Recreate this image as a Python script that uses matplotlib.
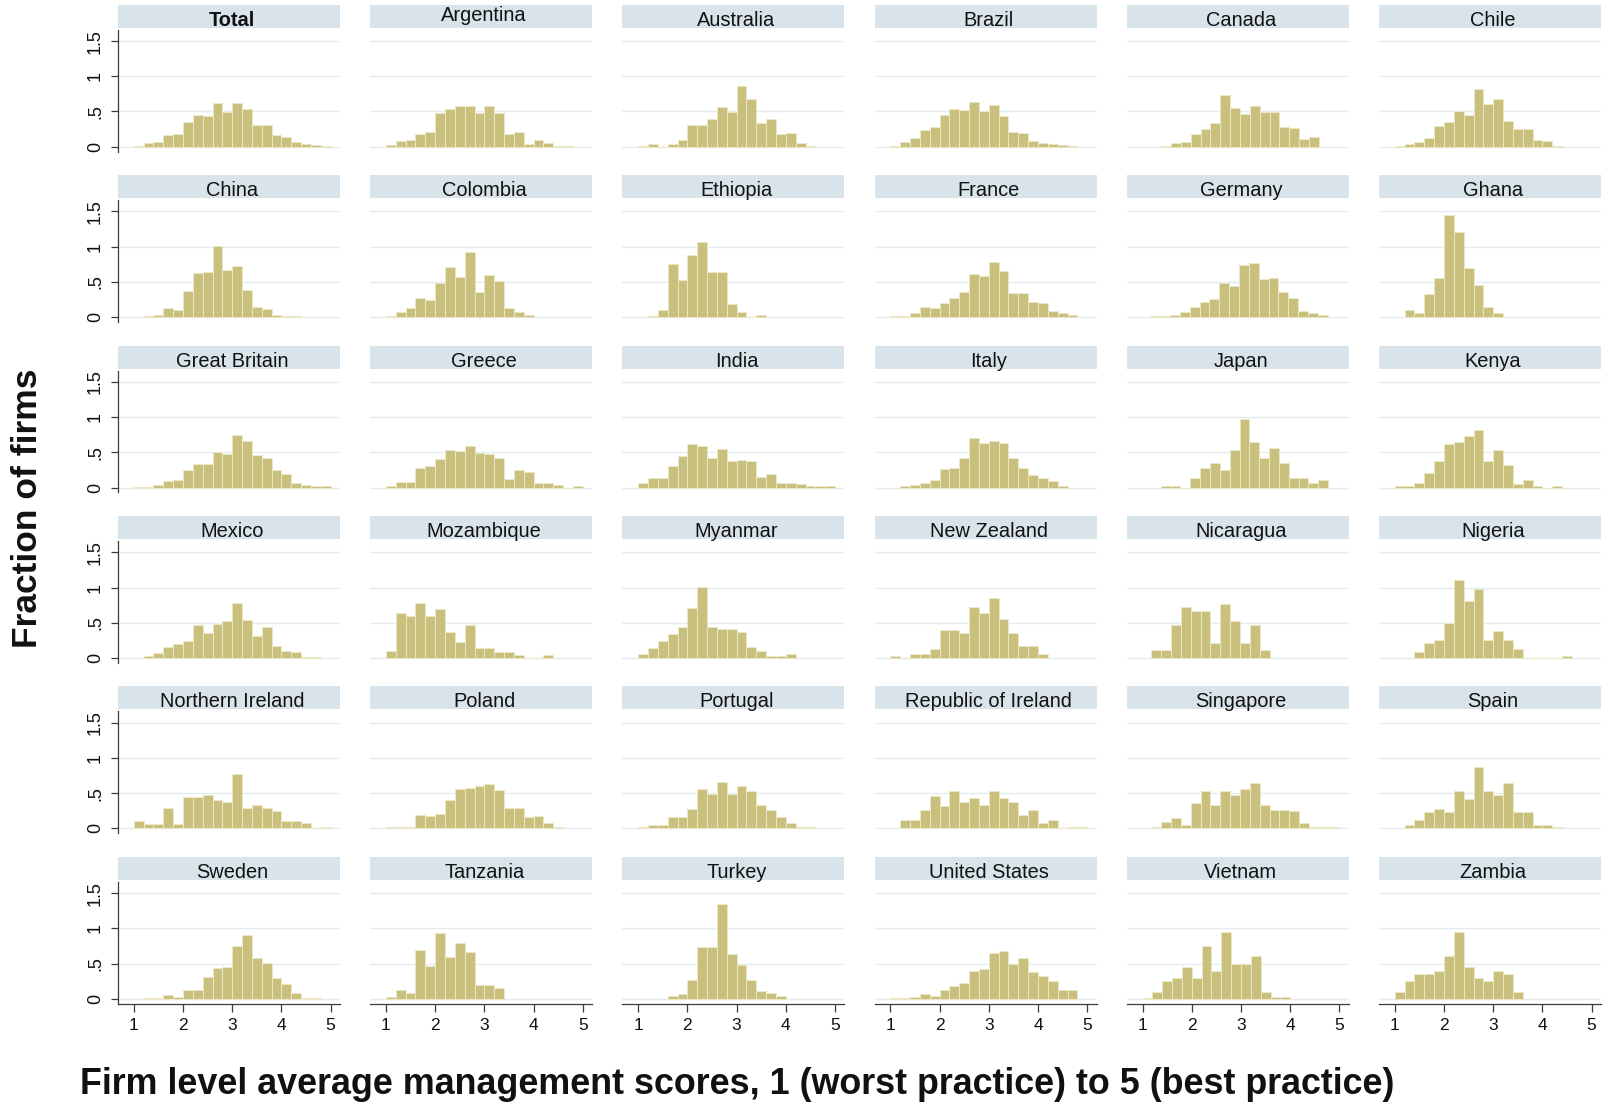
import matplotlib
matplotlib.use("Agg")
import matplotlib.pyplot as plt
from matplotlib.patches import Rectangle

plt.rcParams['font.family'] = ['Liberation Sans', 'DejaVu Sans']

W, H, DPI = 1606, 1105, 100

countries = [
    "Total", "Argentina", "Australia", "Brazil", "Canada", "Chile",
    "China", "Colombia", "Ethiopia", "France", "Germany", "Ghana",
    "Great Britain", "Greece", "India", "Italy", "Japan", "Kenya",
    "Mexico", "Mozambique", "Myanmar", "New Zealand", "Nicaragua", "Nigeria",
    "Northern Ireland", "Poland", "Portugal", "Republic of Ireland", "Singapore", "Spain",
    "Sweden", "Tanzania", "Turkey", "United States", "Vietnam", "Zambia",
]

# histogram bins: common width, first edge per country
bin_width = 0.2
bin_start = [
    1.0, 1.0, 1.0, 1.0, 1.38, 1.0,
    1.2, 1.0, 1.2, 1.0, 1.16, 1.2,
    1.0, 1.0, 1.0, 1.2, 1.37, 1.0,
    1.2, 1.0, 1.0, 1.0, 1.18, 1.4,
    1.0, 1.0, 1.0, 1.2, 1.18, 1.2,
    1.2, 1.0, 1.6, 1.0, 1.0, 1.0,
]

# density (fraction of firms per unit score) in each bin
total = [0.014, 0.057, 0.066, 0.165, 0.184, 0.344, 0.448, 0.434, 0.627, 0.486,
         0.627, 0.533, 0.311, 0.311, 0.165, 0.142, 0.066, 0.038, 0.024, 0.014]
argentina = [0.024, 0.08, 0.094, 0.184, 0.21, 0.48, 0.54, 0.585, 0.585, 0.48,
             0.575, 0.48, 0.184, 0.21, 0.038, 0.094, 0.047, 0.014, 0.014]
australia = [0.014, 0.038, 0.0, 0.033, 0.094, 0.31, 0.31, 0.40, 0.566, 0.486,
             0.868, 0.675, 0.33, 0.387, 0.184, 0.198, 0.047, 0.014]
brazil = [0.014, 0.061, 0.123, 0.24, 0.278, 0.448, 0.533, 0.519, 0.632, 0.5,
          0.59, 0.434, 0.212, 0.198, 0.085, 0.052, 0.038, 0.024, 0.014]
canada = [0.014, 0.057, 0.066, 0.184, 0.255, 0.33, 0.736, 0.547, 0.462, 0.575,
          0.486, 0.486, 0.278, 0.26, 0.108, 0.142]
chile = [0.014, 0.038, 0.066, 0.127, 0.297, 0.344, 0.505, 0.448, 0.825, 0.608,
         0.675, 0.363, 0.245, 0.245, 0.094, 0.08, 0.014]
china = [0.02, 0.033, 0.13, 0.095, 0.376, 0.63, 0.64, 1.01, 0.67, 0.73,
         0.39, 0.143, 0.114, 0.033, 0.02, 0.01]
colombia = [0.02, 0.067, 0.13, 0.27, 0.24, 0.48, 0.714, 0.567, 0.924, 0.357,
            0.595, 0.51, 0.13, 0.071, 0.024]
ethiopia = [0.02, 0.1, 0.76, 0.53, 0.876, 1.07, 0.643, 0.643, 0.186, 0.071, 0.0, 0.024]
france = [0.01, 0.014, 0.052, 0.143, 0.124, 0.195, 0.27, 0.357, 0.61, 0.58,
          0.776, 0.657, 0.348, 0.338, 0.214, 0.195, 0.081, 0.052, 0.024]
germany = [0.01, 0.014, 0.024, 0.07, 0.143, 0.21, 0.257, 0.48, 0.438, 0.738,
           0.77, 0.538, 0.552, 0.357, 0.267, 0.081, 0.052, 0.033]
ghana = [0.1, 0.052, 0.333, 0.56, 1.45, 1.21, 0.695, 0.46, 0.143, 0.052]
great_britain = [0.014, 0.014, 0.033, 0.09, 0.11, 0.243, 0.33, 0.33, 0.505, 0.47,
                 0.743, 0.667, 0.462, 0.42, 0.243, 0.186, 0.071, 0.033, 0.024, 0.024]
greece = [0.024, 0.076, 0.076, 0.28, 0.31, 0.405, 0.538, 0.52, 0.59, 0.495,
          0.47, 0.414, 0.124, 0.252, 0.214, 0.071, 0.062, 0.033, 0.0, 0.024]
india = [0.067, 0.13, 0.14, 0.31, 0.443, 0.624, 0.59, 0.414, 0.552, 0.371,
         0.39, 0.371, 0.148, 0.195, 0.071, 0.071, 0.043, 0.024, 0.024, 0.024]
italy = [0.02, 0.033, 0.062, 0.11, 0.267, 0.276, 0.414, 0.705, 0.638, 0.667,
         0.638, 0.424, 0.276, 0.176, 0.138, 0.09, 0.02]
japan = [0.024, 0.024, 0.0, 0.138, 0.276, 0.343, 0.252, 0.538, 0.967, 0.652,
         0.414, 0.567, 0.343, 0.138, 0.138, 0.071, 0.11]
kenya = [0.02, 0.02, 0.062, 0.21, 0.371, 0.62, 0.652, 0.729, 0.81, 0.371,
         0.538, 0.324, 0.048, 0.11, 0.02, 0.0, 0.024]
mexico = [0.029, 0.076, 0.148, 0.195, 0.238, 0.462, 0.357, 0.48, 0.52, 0.786,
          0.533, 0.305, 0.438, 0.167, 0.105, 0.081, 0.014, 0.014]
mozambique = [0.095, 0.638, 0.595, 0.786, 0.595, 0.695, 0.367, 0.224, 0.462, 0.138,
              0.138, 0.09, 0.09, 0.043, 0.0, 0.0, 0.048]
myanmar = [0.057, 0.138, 0.233, 0.338, 0.438, 0.705, 1.014, 0.438, 0.405, 0.405,
           0.362, 0.157, 0.105, 0.033, 0.033, 0.057]
new_zealand = [0.033, 0.0, 0.052, 0.052, 0.129, 0.4, 0.4, 0.352, 0.724, 0.638,
               0.852, 0.557, 0.352, 0.167, 0.167, 0.062]
nicaragua = [0.11, 0.11, 0.462, 0.719, 0.662, 0.662, 0.21, 0.767, 0.519, 0.21, 0.462, 0.11]
nigeria = [0.081, 0.21, 0.252, 0.5, 1.105, 0.81, 0.976, 0.252, 0.381, 0.252,
           0.129, 0.0, 0.0, 0.0, 0.0, 0.033]
northern_ireland = [0.1, 0.062, 0.062, 0.295, 0.062, 0.438, 0.438, 0.467, 0.4, 0.367,
                    0.767, 0.295, 0.324, 0.295, 0.252, 0.1, 0.1, 0.071, 0.0, 0.024]
poland = [0.014, 0.014, 0.014, 0.195, 0.181, 0.2, 0.395, 0.557, 0.571, 0.605,
          0.624, 0.538, 0.295, 0.295, 0.167, 0.181, 0.071, 0.02]
portugal = [0.02, 0.052, 0.052, 0.157, 0.167, 0.281, 0.557, 0.486, 0.662, 0.49,
            0.605, 0.533, 0.338, 0.267, 0.157, 0.071, 0.024, 0.02]
republic_of_ireland = [0.12, 0.12, 0.257, 0.457, 0.31, 0.533, 0.367, 0.424, 0.338, 0.533,
                       0.424, 0.367, 0.186, 0.257, 0.081, 0.12, 0.0, 0.024, 0.024]
singapore = [0.024, 0.09, 0.152, 0.052, 0.357, 0.524, 0.324, 0.524, 0.471, 0.557,
             0.643, 0.338, 0.267, 0.267, 0.243, 0.071, 0.024, 0.014, 0.014]
spain = [0.043, 0.119, 0.238, 0.281, 0.238, 0.533, 0.41, 0.867, 0.533, 0.471,
         0.638, 0.238, 0.238, 0.052, 0.052, 0.02]
sweden = [0.01, 0.01, 0.048, 0.024, 0.129, 0.129, 0.305, 0.438, 0.452, 0.748,
          0.9, 0.576, 0.51, 0.29, 0.214, 0.081, 0.014, 0.014]
tanzania = [0.024, 0.129, 0.081, 0.69, 0.467, 0.929, 0.595, 0.79, 0.662, 0.19, 0.19, 0.157]
turkey = [0.033, 0.062, 0.262, 0.733, 0.733, 1.343, 0.629, 0.481, 0.262, 0.114, 0.086, 0.033]
united_states = [0.01, 0.01, 0.02, 0.06, 0.04, 0.12, 0.18, 0.22, 0.4, 0.42,
                 0.65, 0.68, 0.5, 0.58, 0.38, 0.32, 0.25, 0.12, 0.12]
vietnam = [0.01, 0.1, 0.25, 0.3, 0.45, 0.3, 0.75, 0.4, 0.95, 0.5,
           0.5, 0.6, 0.1, 0.02, 0.02]
zambia = [0.1, 0.25, 0.35, 0.35, 0.4, 0.6, 0.95, 0.45, 0.3, 0.25, 0.4, 0.35, 0.1]

densities = [
    total, argentina, australia, brazil, canada, chile,
    china, colombia, ethiopia, france, germany, ghana,
    great_britain, greece, india, italy, japan, kenya,
    mexico, mozambique, myanmar, new_zealand, nicaragua, nigeria,
    northern_ireland, poland, portugal, republic_of_ireland, singapore, spain,
    sweden, tanzania, turkey, united_states, vietnam, zambia,
]

y_ticks = [0, 0.5, 1, 1.5]
y_ticklabels = ["0", ".5", "1", "1.5"]
x_ticks = [1, 2, 3, 4, 5]

BAR = "#c9c07e"
BAR_EDGE = "#ece7c6"
STRIP = "#d9e4ea"
GRID = "#e3ecef"
AXIS = "#3a3a3a"

# panel geometry in pixels
COL0, COL_STEP, PANEL_W = 118.0, 252.2, 222.0
ZERO0, ROW_STEP = 146.7, 170.4
PX_PER_Y = 70.4
YMIN, YMAX = -0.07, 1.66
XMIN, XMAX = 0.68, 5.19

fig = plt.figure(figsize=(W / DPI, H / DPI), dpi=DPI)
fig.patch.set_facecolor("white")

title_raise = {"Argentina": 4.5}

for k, (name, dens) in enumerate(zip(countries, densities)):
    r, c = divmod(k, 6)
    left = COL0 + COL_STEP * c
    zero = ZERO0 + ROW_STEP * r
    top = zero - YMAX * PX_PER_Y
    bottom = zero - YMIN * PX_PER_Y
    ax = fig.add_axes([left / W, 1 - bottom / H, PANEL_W / W, (bottom - top) / H])
    ax.set_xlim(XMIN, XMAX)
    ax.set_ylim(YMIN, YMAX)
    for yv in y_ticks:
        ax.axhline(yv, color=GRID, lw=1.0, zorder=0)
    edges = [bin_start[k] + i * bin_width for i in range(len(dens))]
    ax.bar(edges, dens, width=bin_width, align="edge", color=BAR,
           edgecolor=BAR_EDGE, linewidth=0.7, zorder=2)
    for s in ax.spines.values():
        s.set_visible(False)
    ax.set_facecolor("none")

    if c == 0:
        ax.spines["left"].set_visible(True)
        ax.spines["left"].set_color(AXIS)
        ax.spines["left"].set_linewidth(0.9)
        ax.set_yticks(y_ticks)
        ax.set_yticklabels(y_ticklabels, rotation=90, va="center")
        ax.tick_params(axis="y", length=5, width=0.9, color=AXIS,
                       labelsize=13, pad=5, labelcolor="#111111")
    else:
        ax.set_yticks([])
    if r == 5:
        ax.spines["bottom"].set_visible(True)
        ax.spines["bottom"].set_color(AXIS)
        ax.spines["bottom"].set_linewidth(0.9)
        ax.set_xticks(x_ticks)
        ax.set_xticklabels([str(v) for v in x_ticks])
        ax.tick_params(axis="x", length=6, width=0.9, color=AXIS,
                       labelsize=12.5, pad=4, labelcolor="#111111")
    else:
        ax.set_xticks([])

    # header strip with the country name
    fig.patches.append(Rectangle((left / W, 1 - (top - 2) / H), PANEL_W / W, 23 / H,
                                 transform=fig.transFigure, facecolor=STRIP,
                                 edgecolor="none", zorder=1))
    fig.text((left + PANEL_W / 2 + 3) / W, 1 - (top - 4 - title_raise.get(name, 0)) / H, name,
             ha="center", va="baseline", fontsize=14.4, color="#111111",
             fontweight="bold" if name == "Total" else "normal")

fig.text(28 / W, 1 - 508 / H, "Fraction of firms", rotation=90, fontsize=25.5,
         fontweight="bold", ha="center", va="center", color="#111111")
fig.text(80 / W, 1 - 1084 / H,
         "Firm level average management scores, 1 (worst practice) to 5 (best practice)",
         fontsize=25.8, fontweight="bold", ha="left", va="center", color="#111111")

fig.savefig("out.png", dpi=DPI, facecolor="white")
